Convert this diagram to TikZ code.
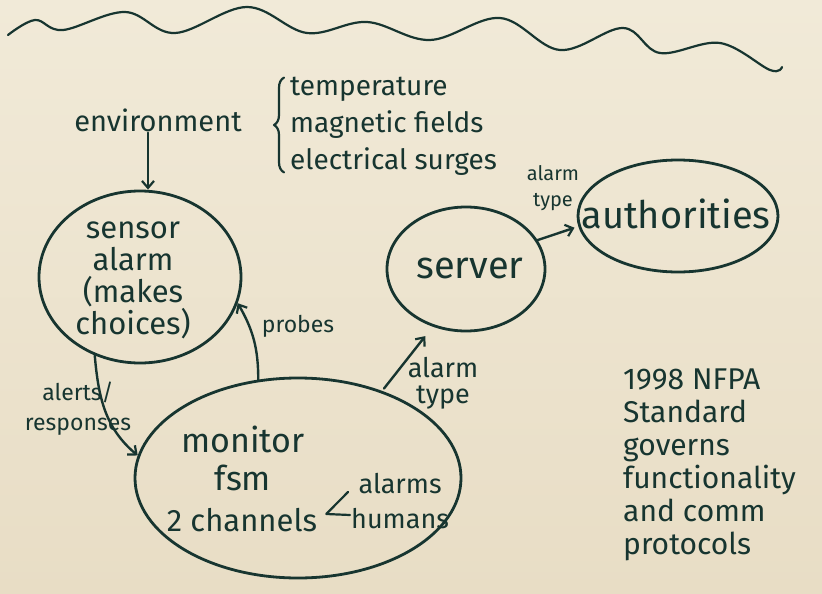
\documentclass[tikz,border=0pt]{standalone}
\usepackage{fontspec}
\setmainfont{Fira Sans}
\usetikzlibrary{positioning,arrows.meta,shapes.geometric,decorations.pathreplacing}
\definecolor{ink}{HTML}{173530}
\definecolor{papertop}{HTML}{F1EAD8}
\definecolor{paperbot}{HTML}{E8DDC5}
\tikzset{
  blob/.style     ={ellipse, draw=ink, line width=2.8pt, inner sep=0pt},
  hand/.style     ={text=ink, align=center, inner sep=1pt, font=\fontsize{29}{38}\selectfont},
  note/.style     ={hand, font=\fontsize{23}{30}\selectfont},
  pen/.style      ={draw=ink, line width=2.2pt, line cap=round, line join=round},
  arr/.style      ={pen, line width=2.4pt, -{Straight Barb[length=7pt,width=12pt,line width=2.2pt]}},
  bracepath/.style={pen, decorate, decoration={brace, amplitude=10pt}},
}

\begin{document}
\begin{tikzpicture}[x=1pt, y=1pt]
  \shade[top color=papertop, bottom color=paperbot] (0,0) rectangle (822,-594);
  \useasboundingbox (0,0) rectangle (822,-594);
  % wavy line along the top
  \draw[pen] plot[smooth, tension=0.6] coordinates {(8,-35) (35,-20) (63,-30) (125,-12)
    (175,-33) (247,-7) (307,-33) (367,-22) (430,-40) (500,-18) (560,-50) (623,-28)
    (660,-53) (720,-43) (770,-70) (782,-67)};
  % environment and its hazards
  \node[hand] (env) at (158,-120) {environment};
  \node[hand, anchor=west, align=left, font=\fontsize{28}{37}\selectfont] (hazards) at (289,-126)
    {temperature\\magnetic fields\\electrical surges};
  \draw[bracepath] ([xshift=-5pt,yshift=4pt]hazards.south west) -- ([xshift=-5pt,yshift=-2pt]hazards.north west);
  % the four parts
  \node[blob, minimum width=202pt, minimum height=172pt] (sensor) at (140,-277) {};
  \node[hand, font=\fontsize{31}{32}\selectfont] (sensortxt) at (133,-280) {sensor\\alarm\\(makes\\choices)};
  \node[blob, minimum width=158pt, minimum height=124pt] (server) at (466,-269) {};
  \node[hand, font=\fontsize{38}{40}\selectfont] (servertxt) at (470,-268) {server};
  \node[blob, minimum width=200pt, minimum height=112pt] (auth) at (678,-216) {};
  \node[hand, font=\fontsize{38}{40}\selectfont] (authtxt) at (676,-214) {authorities};
  \node[blob, minimum width=326pt, minimum height=200pt] (monitor) at (298,-478) {};
  \node[hand, font=\fontsize{34}{38}\selectfont] (montxt) at (243,-458) {monitor\\fsm};
  \node[hand, font=\fontsize{31}{30}\selectfont] (chan) at (242,-520) {2 channels};
  \node[hand, anchor=west, font=\fontsize{27}{35}\selectfont] (modes) at (350,-501) {alarms\\humans};
  \draw[pen] ([xshift=-2pt,yshift=9pt]modes.west) -- ([xshift=8pt,yshift=6pt]chan.east)
    -- ([xshift=0pt,yshift=-14pt]modes.west);
  % connectors
  \draw[arr] ([xshift=-10pt]env.south) -- ([xshift=-10pt]env.south |- sensor.north);
  \draw[arr] (sensor.240) to[out=-85, in=140] (monitor.172);
  \node[note] (alerts) at (78,-409) {alerts/\\responses};
  \draw[arr] (monitor.112) to[out=90, in=-60] (sensor.345);
  \node[note] (probes) at (298,-326) {probes};
  \draw[arr, shorten >=4pt] (server.22) -- (auth.186);
  \node[note, font=\fontsize{20}{26}\selectfont] (typeA) at (553,-188) {alarm\\type};
  \draw[arr, shorten <=3pt, shorten >=12pt] (monitor.46) -- (server.240);
  \node[note, font=\fontsize{27}{26}\selectfont] (typeB) at (443,-383) {alarm\\type};
  % the standard
  \node[hand, anchor=north west, align=left, font=\fontsize{30}{33}\selectfont] (nfpa) at (622,-368)
    {1998 NFPA\\Standard\\governs\\functionality\\and comm\\protocols};
\end{tikzpicture}
\end{document}
